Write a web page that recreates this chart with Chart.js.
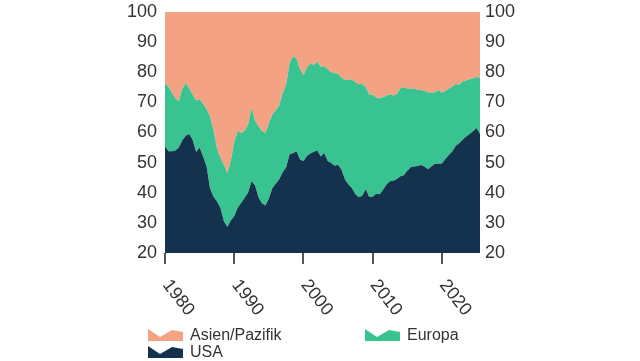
<!DOCTYPE html>
<html>
<head>
<meta charset="utf-8">
<script src="https://cdn.jsdelivr.net/npm/chart.js@4"></script>
<style>
  body { margin: 0; background: #fff; }
  #wrap { position: relative; width: 640px; height: 361px; }
  .leg { position: absolute; font-family: 'Liberation Sans', Arial, sans-serif; font-size: 16px; color: #333; line-height: 16px; }
  .leg svg { position: absolute; left: 0; top: 0; }
  .leg span { position: absolute; left: 42px; top: -2px; white-space: nowrap; }
</style>
</head>
<body>
<div id="wrap">
  <canvas id="chart" width="640" height="361"></canvas>
  <div class="leg" style="left:148px; top:329px;">
    <svg width="36" height="13"><polygon points="0,0 12,8 24,1 35,3 35,12 0,12" fill="#F3A384"/></svg>
    <span>Asien/Pazifik</span>
  </div>
  <div class="leg" style="left:365px; top:329px;">
    <svg width="36" height="13"><polygon points="0,0 12,8 24,1 35,3 35,12 0,12" fill="#38C391"/></svg>
    <span>Europa</span>
  </div>
  <div class="leg" style="left:148px; top:346px;">
    <svg width="36" height="13"><polygon points="0,0 12,8 24,1 35,3 35,12 0,12" fill="#14324E"/></svg>
    <span>USA</span>
  </div>
</div>
<script>
// half-year samples
const years = [
  1980.0, 1980.5, 1981.0, 1981.5, 1982.0, 1982.5, 1983.0, 1983.5, 1984.0, 1984.5,
  1985.0, 1985.5, 1986.0, 1986.5, 1987.0, 1987.5, 1988.0, 1988.5, 1989.0, 1989.5,
  1990.0, 1990.5, 1991.0, 1991.5, 1992.0, 1992.5, 1993.0, 1993.5, 1994.0, 1994.5,
  1995.0, 1995.5, 1996.0, 1996.5, 1997.0, 1997.5, 1998.0, 1998.5, 1999.0, 1999.5,
  2000.0, 2000.5, 2001.0, 2001.5, 2002.0, 2002.5, 2003.0, 2003.5, 2004.0, 2004.5,
  2005.0, 2005.5, 2006.0, 2006.5, 2007.0, 2007.5, 2008.0, 2008.5, 2009.0, 2009.5,
  2010.0, 2010.5, 2011.0, 2011.5, 2012.0, 2012.5, 2013.0, 2013.5, 2014.0, 2014.5,
  2015.0, 2015.5, 2016.0, 2016.5, 2017.0, 2017.5, 2018.0, 2018.5, 2019.0, 2019.5,
  2020.0, 2020.5, 2021.0, 2021.5, 2022.0, 2022.5, 2023.0, 2023.5, 2024.0, 2024.5,
  2025.0, 2025.5
];

// USA share (bottom layer)
const usa = [
  55.4, 53.8, 53.8, 54.0, 55.0, 57.4, 58.9, 59.5, 57.5, 53.5,
  55.0, 52.0, 48.8, 41.5, 38.7, 37.2, 35.0, 30.6, 28.6, 30.8,
  32.2, 35.0, 36.6, 38.3, 40.0, 43.8, 42.5, 38.5, 36.5, 35.8,
  38.0, 41.5, 43.0, 44.5, 46.8, 48.5, 52.7, 53.2, 53.8, 51.0,
  50.5, 52.2, 53.0, 53.6, 54.0, 52.0, 53.2, 50.5, 49.9, 49.0,
  49.3, 47.6, 44.4, 42.7, 41.6, 39.5, 38.5, 39.0, 41.2, 38.6,
  38.7, 39.7, 39.5, 41.0, 42.7, 43.8, 44.0, 44.6, 45.5, 45.8,
  47.3, 48.5, 48.7, 48.9, 49.2, 48.6, 47.8, 48.8, 49.6, 49.6,
  49.7, 51.2, 52.5, 53.7, 55.6, 56.4, 57.6, 58.7, 59.5, 60.4,
  61.5, 59.5
];

// USA + Europa (top edge of the green layer)
const usaEuropa = [
  76.4, 75.3, 73.1, 71.4, 70.3, 74.5, 76.4, 74.6, 72.5, 70.6,
  71.0, 69.5, 67.8, 65.3, 60.8, 54.8, 51.5, 49.3, 46.5, 50.5,
  56.8, 60.5, 59.8, 60.6, 62.5, 68.1, 64.0, 62.0, 60.5, 59.8,
  63.0, 66.0, 67.3, 69.0, 73.0, 76.0, 83.0, 85.3, 84.5, 81.0,
  79.0, 81.5, 82.8, 82.5, 83.5, 81.8, 82.0, 81.0, 80.0, 79.7,
  79.5, 78.2, 77.4, 77.6, 77.5, 76.7, 76.0, 76.1, 75.0, 72.6,
  72.5, 71.6, 71.3, 71.8, 72.2, 72.6, 72.3, 72.8, 74.7, 74.9,
  74.6, 74.6, 74.5, 74.2, 74.1, 73.8, 73.4, 73.1, 73.4, 74.1,
  73.2, 73.8, 74.5, 75.3, 76.1, 75.8, 77.0, 77.3, 77.7, 77.9,
  78.4, 78.1
];

const europa = usaEuropa.map((v, i) => +(v - usa[i]).toFixed(1));
const asien = usaEuropa.map(v => +(100 - v).toFixed(1));

const xTicks = [1980, 1990, 2000, 2010, 2020];

const toPoints = (vals) => vals.map((v, i) => ({ x: years[i], y: v }));

const FONT = "'Liberation Sans', Arial, sans-serif";

const areaStyle = (color, fill) => ({
    backgroundColor: color,
    borderColor: color,
    borderWidth: 0,
    pointRadius: 0,
    tension: 0,
    fill: fill
});

// rotated year labels + tick marks under the plot
const xLabelPlugin = {
    id: 'xLabels',
    afterDraw(chart) {
        const ctx = chart.ctx;
        const xs = chart.scales.x;
        const bottom = chart.chartArea.bottom;
        ctx.save();
        ctx.strokeStyle = '#555';
        ctx.lineWidth = 2;
        xTicks.forEach(t => {
            const px = Math.round(xs.getPixelForValue(t));
            ctx.beginPath();
            ctx.moveTo(px, bottom);
            ctx.lineTo(px, bottom + 11);
            ctx.stroke();
        });
        ctx.fillStyle = '#333';
        ctx.font = '18px ' + FONT;
        ctx.textAlign = 'left';
        ctx.textBaseline = 'middle';
        xTicks.forEach(t => {
            const px = xs.getPixelForValue(t);
            ctx.save();
            ctx.translate(px + 1, bottom + 29);
            ctx.rotate(52 * Math.PI / 180);
            ctx.fillText(String(t), 0, 0);
            ctx.restore();
        });
        ctx.restore();
    }
};

const fitY = (w) => (s) => {
    s.width = w;
    s.paddingTop = 0;
    s.paddingBottom = 0;
};

new Chart(document.getElementById('chart'), {
    type: 'line',
    data: {
        datasets: [
            { label: 'USA', data: toPoints(usa), ...areaStyle('#14324E', 'start') },
            { label: 'Europa', data: toPoints(europa), ...areaStyle('#38C391', '-1') },
            { label: 'Asien/Pazifik', data: toPoints(asien), ...areaStyle('#F3A384', '-1') }
        ]
    },
    options: {
        responsive: false,
        animation: false,
        layout: { padding: { top: 12, left: 0, right: 0, bottom: 0 } },
        plugins: {
            legend: { display: false },
            tooltip: { enabled: false }
        },
        scales: {
            x: {
                type: 'linear',
                min: 1980,
                max: 2025.5,
                grid: { display: false, drawTicks: false },
                border: { display: false },
                ticks: { display: false },
                afterBuildTicks: (s) => { s.ticks = xTicks.map(v => ({ value: v })); },
                afterFit: (s) => { s.height = 108; s.paddingLeft = 0; s.paddingRight = 0; }
            },
            y: {
                stacked: true,
                position: 'left',
                min: 20,
                max: 100,
                grid: { display: false, drawTicks: false },
                border: { display: false },
                ticks: { stepSize: 10, padding: 8, color: '#333', font: { family: FONT, size: 18 } },
                afterFit: fitY(165)
            },
            y2: {
                position: 'right',
                min: 20,
                max: 100,
                grid: { display: false, drawTicks: false },
                border: { display: false },
                ticks: { stepSize: 10, padding: 5, color: '#333', font: { family: FONT, size: 18 } },
                afterFit: fitY(160)
            }
        }
    },
    plugins: [xLabelPlugin]
});
</script>
</body>
</html>
